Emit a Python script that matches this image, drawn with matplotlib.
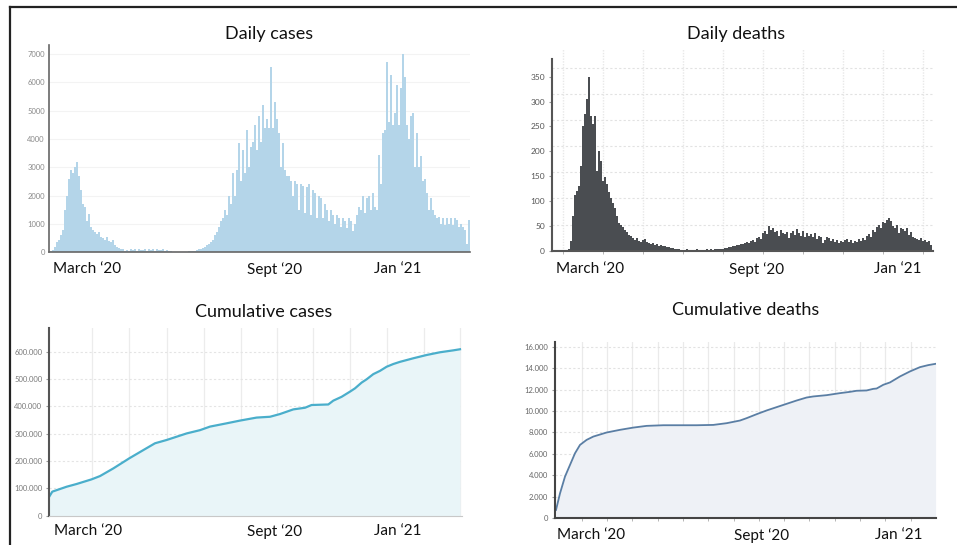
import matplotlib
matplotlib.use("Agg")
import matplotlib.pyplot as plt
from matplotlib.lines import Line2D
from matplotlib.ticker import FuncFormatter
import numpy as np

plt.rcParams['font.family'] = ['Lato', 'DejaVu Sans']

# ---------------- data ----------------
# daily cases, one value per 2-day bin
cases_daily = [
    30, 80, 200, 350, 450, 600, 800, 1500, 2000, 2600,
    2900, 2800, 3000, 3200, 2700, 2200, 1700, 1600, 1100, 1350,
    900, 800, 700, 650, 700, 550, 500, 450, 550, 400,
    350, 450, 250, 200, 150, 120, 100, 60,
    90, 60, 120, 80, 100, 50, 110, 90, 70, 100, 60, 120, 80, 100, 60, 110,
    90, 70, 100, 50, 80, 60, 40,
    20, 10, 10, 5, 10, 20, 10, 20, 30, 30, 40, 60, 80,
    100, 120, 150, 200, 250, 300,
    350, 450, 600, 700, 900, 1100, 1200, 1500, 1300, 2000,
    1700, 2800, 2000, 2900, 3850, 2500, 3600, 2800, 4300, 3000,
    3700, 3900, 4500, 3600, 4800, 3900, 5200, 4400, 4700, 4400,
    6550, 4400, 5300, 4700, 4200, 3000, 3850, 2900, 2700, 2700,
    2500, 2000, 2500, 2400, 1500, 2400, 2350, 1400, 2300, 2400,
    1300, 2200, 2100, 1200, 2000, 1900, 1200, 1700, 1500, 1100,
    1500, 1300, 1000, 1300, 1200, 900, 1200, 1100, 850, 1200,
    1100, 750, 1000, 1300, 1600, 1500, 2000, 1400, 1900, 2000,
    1500, 2100, 1600, 1500, 3450, 2400, 4200, 4300, 6700, 4600,
    6250, 4500, 4900, 5900, 4500, 5800, 7000, 6200, 4500, 4000,
    4800, 4900, 3000, 4200, 3000, 3400, 2500, 2600, 2100, 1500,
    1900, 1500, 1300, 1200, 1250, 1000, 1200, 950, 1200, 1000,
    1200, 950, 1200, 1150, 900, 1000, 900, 800, 300, 1150,
]

# daily deaths, one value per 2-day bin
deaths_daily = [
    2, 2, 2, 2, 2, 2, 2, 2, 3,
    20, 70, 112, 120, 130, 170, 250, 275, 305, 350,
    270, 255, 270, 160, 200, 180, 140, 148, 135, 118,
    105, 95, 85, 70, 55, 52, 48, 42, 38, 32,
    30, 26, 22, 25, 20, 18, 22, 24, 17, 15,
    14, 16, 12, 13, 10, 12, 9, 10, 8, 7,
    6, 5, 4, 3,
    3, 2, 2, 2, 3, 2, 2, 2, 2, 3, 2, 2, 2, 2, 3, 2, 3, 2, 3, 3, 4, 3, 4,
    5, 6, 8, 7, 9, 10, 12, 11, 14, 13,
    16, 18, 15, 20, 22, 18, 26, 28, 24, 35,
    40, 33, 50, 42, 45, 38, 40, 30, 42, 36,
    33, 38, 25, 35, 40, 32, 44, 35, 30, 40,
    28, 35, 30, 33, 27, 35, 24, 30, 28, 15,
    22, 28, 25, 20, 23, 17, 22, 15, 20, 18,
    22, 24, 18, 22, 15, 20, 18, 23, 20, 25,
    22, 30, 34, 28, 42, 38, 48, 52, 45, 58,
    55, 62, 66, 60, 50, 45, 52, 35, 46, 44,
    40, 45, 32, 38, 28, 25, 24, 22, 25, 20,
    22, 18, 20, 12,
]

# cumulative cases (day, value)
cum_cases_day = [0, 3, 17.3, 27.3, 42.3, 50.7, 64, 80, 94, 105.7, 117.3, 127.3,
                 137.3, 150.7, 160.7, 177.3, 190.7, 207.3, 220.7, 230.7, 244,
                 255.7, 262.3, 279, 284, 292.3, 300.7, 305.7, 312.3, 317.3, 324,
                 330.7, 337.3, 344, 350.7, 364, 377.3, 390.7, 404, 410.7]
cum_cases = [70000, 88000, 106000, 116000, 133000, 145000, 173000, 210000,
             240000, 265000, 277000, 289000, 301000, 313000, 326000, 338000,
             348000, 359000, 362000, 372000, 389000, 395000, 405000, 407000,
             421000, 435000, 454000, 466000, 487000, 499000, 518000, 530000,
             545000, 555000, 563000, 576000, 588000, 598000, 605000, 609000]

# cumulative deaths (day, value)
cum_deaths_day = [0.7, 4.7, 9.7, 14.7, 19.7, 24.7, 31.3, 38, 51.3, 64.7, 78,
                  91.3, 108, 124.7, 141.3, 158, 171.3, 184.7, 191.3, 201.3,
                  211.3, 221.3, 231.3, 241.3, 251.3, 258, 271.3, 284.7, 294.7,
                  301.3, 311.3, 318, 321.3, 328, 334.7, 344.7, 354.7, 364.7,
                  373, 380.3]
cum_deaths = [750, 2300, 3870, 4960, 6050, 6830, 7300, 7610, 7990, 8240, 8450,
              8610, 8670, 8670, 8670, 8700, 8860, 9110, 9330, 9700, 10050,
              10360, 10670, 10980, 11260, 11360, 11480, 11670, 11790, 11890,
              11920, 12070, 12100, 12450, 12670, 13230, 13700, 14100, 14290,
              14410]

titles = ["Daily cases", "Daily deaths", "Cumulative cases", "Cumulative deaths"]
month_labels = ["March \u201820", "Sept \u201820", "Jan \u201821"]

# ---------------- figure ----------------
W, H = 957, 545
fig = plt.figure(figsize=(W / 100, H / 100), dpi=100)
fig.patch.set_facecolor("white")


def px_axes(x0, y0, x1, y1):
    return fig.add_axes([x0 / W, 1 - y1 / H, (x1 - x0) / W, (y1 - y0) / H])


def dot_thousands(v, pos):
    return f"{int(round(v)):,}".replace(",", ".")


def style_common(ax, spine_color, lw):
    for s in ("top", "right"):
        ax.spines[s].set_visible(False)
    for s in ("left", "bottom"):
        ax.spines[s].set_color(spine_color)
        ax.spines[s].set_linewidth(lw)
    ax.set_axisbelow(True)


LABEL_SIZE = 11
TITLE_SIZE = 13

# ---- Daily cases ----
ax1 = px_axes(49, 45, 470, 252.3)
case_days = np.arange(len(cases_daily)) * 2
ax1.bar(case_days, cases_daily, width=1.8, align="edge", color="#b4d5e9", linewidth=0)
ax1.set_xlim(-1, 420)
ax1.set_ylim(0, 7317)
ax1.set_yticks(range(0, 7001, 1000))
ax1.grid(axis="y", color="#f3f3f3", lw=0.8)
style_common(ax1, "#666666", 1.2)
ax1.set_xticks([37.5, 224.5, 347.5])
ax1.set_xticklabels(month_labels)
ax1.tick_params(axis="x", length=0, pad=7, labelsize=LABEL_SIZE, labelcolor="#111111")
ax1.tick_params(axis="y", length=0, pad=3, labelsize=5.5, labelcolor="#8a8a8a")

# ---- Daily deaths ----
ax2 = px_axes(552, 49, 933, 250.7)
death_days = np.arange(len(deaths_daily)) * 2
ax2.bar(death_days, deaths_daily, width=2, align="edge", color="#4a4d51", linewidth=0)
ax2.set_xlim(0, 381)
ax2.set_ylim(0, 405.7)
ax2.set_yticks(range(0, 351, 50))
ax2.set_yticks([52.5 * k for k in range(1, 8)], minor=True)
ax2.set_xticks([10.7 + 40 * k for k in range(10)], minor=True)
ax2.grid(which="minor", axis="y", color="#e2e2e2", lw=0.8, ls=(0, (2, 2)))
ax2.grid(which="minor", axis="x", color="#e8e8e8", lw=1.0, ls=(0, (1, 1)))
style_common(ax2, "#555555", 1.5)
ax2.spines["left"].set_bounds(0, 385.6)
ax2.set_xticks([38.5, 204.5, 345.5])
ax2.set_xticklabels(month_labels)
ax2.tick_params(axis="x", which="major", length=0, pad=8, labelsize=LABEL_SIZE, labelcolor="#111111")
ax2.tick_params(axis="x", which="minor", length=2, color="#aaaaaa")
ax2.tick_params(axis="y", which="major", length=2, pad=3, labelsize=6, labelcolor="#555555", color="#999999")
ax2.tick_params(axis="y", which="minor", length=0)

# ---- Cumulative cases ----
ax3 = px_axes(49.3, 328, 461.7, 515.7)
ax3.fill_between(cum_cases_day, cum_cases, 0, color="#e9f5f8", lw=0)
ax3.plot(cum_cases_day, cum_cases, color="#4aaecb", lw=1.6)
ax3.set_xlim(0, 412.4)
ax3.set_ylim(0, 686800)
ax3.set_yticks(range(0, 600001, 100000))
ax3.yaxis.set_major_formatter(FuncFormatter(dot_thousands))
ax3.set_xticks([42.4, 80, 117.4, 154.7, 191.4, 227.4, 264, 300.7, 337.4, 374.7, 410.7], minor=True)
ax3.grid(which="minor", axis="x", color="#ececec", lw=0.9)
ax3.grid(which="major", axis="y", color="#e4e4e4", lw=0.8, ls=(0, (2, 2)))
style_common(ax3, "#555555", 1.5)
ax3.spines["bottom"].set_color("#c8c8c8")
ax3.spines["bottom"].set_linewidth(0.8)
ax3.set_xticks([38.7, 225.7, 348.7])
ax3.set_xticklabels(month_labels)
ax3.tick_params(axis="x", which="major", length=0, pad=6, labelsize=LABEL_SIZE, labelcolor="#111111")
ax3.tick_params(axis="x", which="minor", length=0)
ax3.tick_params(axis="y", length=2, pad=3, labelsize=5.5, labelcolor="#7a7a7a", color="#999999")

# ---- Cumulative deaths ----
ax4 = px_axes(555.3, 342, 935.7, 518)
ax4.fill_between(cum_deaths_day, cum_deaths, 0, color="#eef1f6", lw=0)
ax4.plot(cum_deaths_day, cum_deaths, color="#5a7ea4", lw=1.3)
ax4.set_xlim(0, 380.4)
ax4.set_ylim(0, 16449)
ax4.set_yticks(range(0, 16001, 2000))
ax4.yaxis.set_major_formatter(FuncFormatter(dot_thousands))
ax4.set_xticks([26.4 + 25.3 * k for k in range(14)], minor=True)
ax4.grid(which="minor", axis="x", color="#eaeaea", lw=0.9)
ax4.grid(which="major", axis="y", color="#e2e2e2", lw=0.8, ls=(0, (2, 2)))
style_common(ax4, "#444444", 1.5)
ax4.set_xticks([36.2, 206.7, 343.7])
ax4.set_xticklabels(month_labels)
ax4.tick_params(axis="x", which="major", length=0, pad=7, labelsize=LABEL_SIZE, labelcolor="#111111")
ax4.tick_params(axis="x", which="minor", length=2, color="#aaaaaa")
ax4.tick_params(axis="y", length=2, pad=3, labelsize=5.5, labelcolor="#666666", color="#999999")

# ---- titles ----
title_pos = [(269.5, 33.5), (735.8, 33.5), (263.8, 311.7), (745.7, 309.7)]
for t, (x, y) in zip(titles, title_pos):
    fig.text(x / W, 1 - y / H, t, ha="center", va="center", fontsize=TITLE_SIZE, color="#111111")

# ---- outer frame (top and left edges) ----
fig.add_artist(Line2D([10 / W, 1], [1 - 7 / H, 1 - 7 / H], transform=fig.transFigure, color="#222222", lw=1.6))
fig.add_artist(Line2D([10 / W, 10 / W], [0, 1 - 7 / H], transform=fig.transFigure, color="#222222", lw=1.6))

fig.savefig("out.png", dpi=100)
